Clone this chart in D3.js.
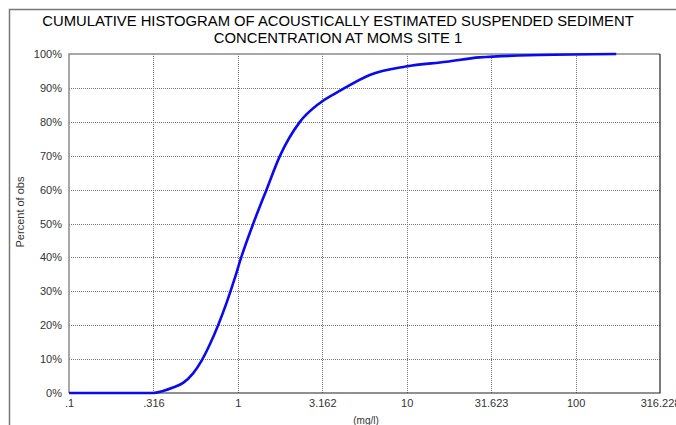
<!DOCTYPE html>
<html>
<head>
<meta charset="utf-8">
<script src="https://cdn.jsdelivr.net/npm/d3@7/dist/d3.min.js"></script>
<style>
  html, body { margin: 0; padding: 0; background: #fff; }
  svg { display: block; font-family: "Liberation Sans", Arial, sans-serif; }
</style>
</head>
<body>
<svg id="chart" width="676" height="425"></svg>
<script>
// Cumulative distribution of suspended sediment concentration (mg/l)
const concentration = [0.1, 0.25, 0.315, 0.36, 0.413, 0.474, 0.543, 0.609, 0.682, 0.764, 0.856,
  0.958, 1.05, 1.23, 1.476, 1.77, 2.324, 3.05, 4.11, 6.04, 9.87, 17.2, 27.0, 61.2, 174];
const percentObs = [0, 0, 0, 0.6, 1.6, 3.0, 5.8, 9.5, 14.3, 20, 26.5,
  33.8, 40.2, 49.8, 59.9, 69.8, 79.9, 85.5, 89.4, 93.8, 96.3, 97.7, 99.0, 99.7, 100];

const xTickValues = [0.1, 0.316228, 1, 3.162278, 10, 31.62278, 100, 316.228];
const xTickLabels = [".1", ".316", "1", "3.162", "10", "31.623", "100", "316.228"];
const yTickValues = [0, 10, 20, 30, 40, 50, 60, 70, 80, 90, 100];

const titleLines = ["CUMULATIVE HISTOGRAM OF ACOUSTICALLY ESTIMATED SUSPENDED SEDIMENT",
  "CONCENTRATION AT MOMS SITE 1"];
const xTitle = "(mg/l)";
const yTitle = "Percent of obs";

const svg = d3.select("#chart");
const plot = { left: 69, right: 660, top: 54, bottom: 393 };

const x = d3.scaleLog().domain([0.1, 316.228]).range([plot.left, plot.right]);
const y = d3.scaleLinear().domain([0, 100]).range([plot.bottom, plot.top]);

// outer frame (left and top edges)
svg.append("path")
  .attr("d", `M9.5,425 V9.5 H676`)
  .attr("fill", "none").attr("stroke", "#777").attr("stroke-width", 1.5);

// title
svg.append("g").selectAll("text").data(titleLines).join("text")
  .attr("x", 338).attr("y", (d, i) => 26 + i * 17)
  .attr("text-anchor", "middle")
  .attr("font-size", 14.8).attr("fill", "#000")
  .text(d => d);

// grid
const grid = svg.append("g").attr("stroke", "#777").attr("stroke-width", 1)
  .attr("stroke-dasharray", "1,1").attr("fill", "none");
grid.selectAll(".gy").data(yTickValues.slice(1, -1)).join("line")
  .attr("x1", plot.left).attr("x2", plot.right)
  .attr("y1", d => Math.round(y(d)) + 0.5).attr("y2", d => Math.round(y(d)) + 0.5);
grid.selectAll(".gx").data(xTickValues.slice(1, -1)).join("line")
  .attr("y1", plot.top).attr("y2", plot.bottom)
  .attr("x1", d => Math.round(x(d)) + 0.5).attr("x2", d => Math.round(x(d)) + 0.5);

// plot border: light top/left, dark right/bottom
svg.append("path")
  .attr("d", `M${plot.left},${plot.bottom} V${plot.top} H${plot.right}`)
  .attr("fill", "none").attr("stroke", "#8a8a8a").attr("stroke-width", 1.5);
svg.append("path")
  .attr("d", `M${plot.left},${plot.bottom} H${plot.right} V${plot.top}`)
  .attr("fill", "none").attr("stroke", "#222").attr("stroke-width", 1.2);

// axes
const xAxis = d3.axisBottom(x).tickValues(xTickValues)
  .tickFormat((d, i) => xTickLabels[i]).tickSize(0).tickPadding(6);
const gx = svg.append("g").attr("transform", `translate(0,${plot.bottom})`).call(xAxis);
gx.select(".domain").remove();
gx.selectAll("text").attr("font-size", 11).attr("fill", "#333")
  .attr("font-family", "'Liberation Sans', Arial, sans-serif");

const yAxis = d3.axisLeft(y).tickValues(yTickValues).tickFormat(d => d + "%")
  .tickSize(0).tickPadding(7);
const gy = svg.append("g").attr("transform", `translate(${plot.left},0)`).call(yAxis);
gy.select(".domain").remove();
gy.selectAll("text").attr("font-size", 11).attr("fill", "#333")
  .attr("font-family", "'Liberation Sans', Arial, sans-serif");

// axis titles
svg.append("text").attr("x", 366).attr("y", 424)
  .attr("text-anchor", "middle").attr("font-size", 10).attr("fill", "#333").text(xTitle);
svg.append("text").attr("transform", "translate(24,212) rotate(-90)")
  .attr("text-anchor", "middle").attr("font-size", 11).attr("fill", "#333").text(yTitle);

// cumulative curve
const line = d3.line().x((d, i) => x(d)).y((d, i) => y(percentObs[i])).curve(d3.curveMonotoneX);
svg.append("path").datum(concentration)
  .attr("d", line)
  .attr("fill", "none").attr("stroke", "#0a0aee").attr("stroke-width", 2.6)
  .attr("stroke-linejoin", "round");
</script>
</body>
</html>
